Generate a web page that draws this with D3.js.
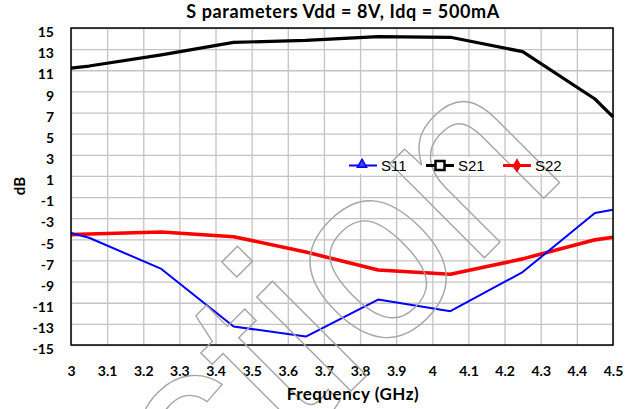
<!DOCTYPE html>
<html>
<head>
<meta charset="utf-8">
<script src="https://cdn.jsdelivr.net/npm/d3@7"></script>
<style>
  body { margin: 0; background: #fff; }
  svg { display: block; }
  .tick text { font-family: Lato, "Open Sans", sans-serif; font-weight: 700; font-size: 14px; fill: #000; }
</style>
</head>
<body>
<svg></svg>
<script>
// frequency points (GHz) and S parameters (dB)
const freq = [3, 3.05, 3.25, 3.45, 3.65, 3.85, 4.05, 4.25, 4.45, 4.5];
const s11 = [-4.4, -4.85, -7.8, -13.25, -14.2, -10.7, -11.8, -8.1, -2.5, -2.2];
const s21 = [11.2, 11.4, 12.45, 13.64, 13.83, 14.18, 14.12, 12.76, 8.28, 6.58];
const s22 = [-4.55, -4.5, -4.3, -4.75, -6.2, -7.9, -8.3, -6.85, -5.05, -4.8];

const seriesNames = ['S11', 'S21', 'S22'];
const xTicks = [3, 3.1, 3.2, 3.3, 3.4, 3.5, 3.6, 3.7, 3.8, 3.9, 4, 4.1, 4.2, 4.3, 4.4, 4.5];
const yTicks = [15, 13, 11, 9, 7, 5, 3, 1, -1, -3, -5, -7, -9, -11, -13, -15];

const titleText = 'S parameters Vdd = 8V, Idq = 500mA';
const xAxisLabelText = 'Frequency (GHz)';
const yAxisLabelText = 'dB';

const width = 634;
const height = 409;
const margin = { top: 28, right: 21, bottom: 64, left: 71 };
const w = width - margin.left - margin.right;
const h = height - margin.top - margin.bottom;

const svg = d3.select('svg')
  .attr('width', width)
  .attr('height', height);

svg.append('rect').attr('width', width).attr('height', height).attr('fill', '#fff');

const chart = svg.append('g')
  .attr('transform', `translate(${margin.left}, ${margin.top})`);

const xScale = d3.scaleLinear().domain([3, 4.5]).range([0, w]);
const yScale = d3.scaleLinear().domain([-15, 15]).range([h, 0]);

// grid
chart.append('g')
  .attr('class', 'grid')
  .attr('transform', `translate(0, ${h})`)
  .call(d3.axisBottom(xScale).tickValues(xTicks).tickSize(-h).tickFormat(''))
  .call(g => g.select('.domain').remove())
  .call(g => g.selectAll('line').attr('stroke', '#c4c4c4').attr('stroke-width', 1.3));

chart.append('g')
  .attr('class', 'grid')
  .call(d3.axisLeft(yScale).tickValues(yTicks).tickSize(-w).tickFormat(''))
  .call(g => g.select('.domain').remove())
  .call(g => g.selectAll('line').attr('stroke', '#c4c4c4').attr('stroke-width', 1.3));

// legend background
const legendY = 165.5;
svg.append('rect')
  .attr('x', 343).attr('y', 157)
  .attr('width', 227).attr('height', 17)
  .attr('fill', '#fff');

// watermark (clipped to the page, like the original)
svg.append('clipPath').attr('id', 'page')
  .append('rect').attr('width', width).attr('height', height);

svg.append('g')
  .attr('clip-path', 'url(#page)')
  .append('text')
  .attr('transform', 'translate(206, 536) rotate(-45)')
  .style('font-family', '"Liberation Sans", Arial, sans-serif')
  .style('font-size', '252px')
  .style('letter-spacing', '-4px')
  .attr('fill', 'none')
  .attr('stroke', '#a6a6a6')
  .attr('stroke-width', 1.4)
  .text('ction');

// series
const colors = { S11: '#0000ff', S21: '#000000', S22: '#ff0000' };
const widths = { S11: 2, S21: 3.2, S22: 3.6 };
const values = { S11: s11, S21: s21, S22: s22 };

const line = d3.line()
  .x(d => xScale(d[0]))
  .y(d => yScale(d[1]));

['S22', 'S11', 'S21'].forEach(name => {
  chart.append('path')
    .datum(freq.map((f, i) => [f, values[name][i]]))
    .attr('fill', 'none')
    .attr('stroke', colors[name])
    .attr('stroke-width', widths[name])
    .attr('stroke-linejoin', 'round')
    .attr('d', line);
});

// frame
chart.append('rect')
  .attr('width', w).attr('height', h)
  .attr('fill', 'none')
  .attr('stroke', '#000')
  .attr('stroke-width', 1.5);

// axes labels
chart.append('g')
  .attr('transform', `translate(0, ${h})`)
  .call(d3.axisBottom(xScale).tickValues(xTicks).tickSize(0).tickPadding(21).tickFormat(d => String(d)))
  .call(g => g.select('.domain').remove());

chart.append('g')
  .call(d3.axisLeft(yScale).tickValues(yTicks).tickSize(0).tickPadding(17).tickFormat(d => String(d)))
  .call(g => g.select('.domain').remove())
  .call(g => g.selectAll('text').attr('dy', '0.62em'));

svg.append('text')
  .attr('x', 343).attr('y', 18)
  .attr('text-anchor', 'middle')
  .style('font-family', 'Lato, sans-serif')
  .style('font-weight', 700)
  .style('font-size', '18px')
  .style('letter-spacing', '0.6px')
  .text(titleText);

svg.append('text')
  .attr('x', 353).attr('y', 400)
  .attr('text-anchor', 'middle')
  .style('font-family', 'Lato, sans-serif')
  .style('font-weight', 700)
  .style('font-size', '17px')
  .style('letter-spacing', '0.5px')
  .text(xAxisLabelText);

svg.append('text')
  .attr('transform', 'translate(25, 186) rotate(-90)')
  .attr('text-anchor', 'middle')
  .style('font-family', 'Lato, sans-serif')
  .style('font-weight', 700)
  .style('font-size', '15px')
  .text(yAxisLabelText);

// legend
const legendX = [349, 426, 503];
const legend = svg.append('g').attr('class', 'legend');
seriesNames.forEach((name, i) => {
  const g = legend.append('g').attr('transform', `translate(${legendX[i]}, ${legendY})`);
  g.append('line')
    .attr('x1', 0).attr('x2', 28)
    .attr('stroke', colors[name])
    .attr('stroke-width', name === 'S11' ? 2 : 3);
  if (name === 'S11') {
    g.append('path')
      .attr('d', d3.symbol(d3.symbolTriangle, 36)())
      .attr('transform', 'translate(13, -1)')
      .attr('fill', '#4040ff').attr('stroke', colors[name]).attr('stroke-width', 1.5);
  } else if (name === 'S21') {
    g.append('rect')
      .attr('x', 9.5).attr('y', -4.5).attr('width', 9).attr('height', 9)
      .attr('fill', '#fff').attr('stroke', '#000').attr('stroke-width', 2.5);
  } else {
    g.append('path')
      .attr('d', d3.symbol(d3.symbolDiamond, 60)())
      .attr('transform', 'translate(14, 0)')
      .attr('fill', colors[name]);
  }
  g.append('text')
    .attr('x', 32).attr('y', 5.5)
    .style('font-family', '"Liberation Sans", Arial, sans-serif')
    .style('font-size', '15px')
    .text(name);
});
</script>
</body>
</html>
